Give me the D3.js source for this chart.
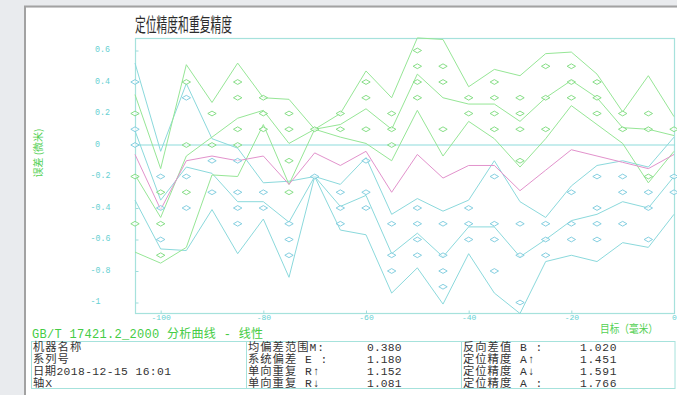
<!DOCTYPE html>
<html>
<head>
<meta charset="utf-8">
<script src="https://cdn.jsdelivr.net/npm/d3@7"></script>
<style>
  html, body { margin: 0; padding: 0; background: #e9ebee; }
  svg { display: block; }
</style>
</head>
<body>
<svg id="chart" width="677" height="395"></svg>
<script>
// Target positions (mm)
const positions = [-105, -100, -95, -90, -85, -80, -75, -70, -65, -60, -55,
                   -50, -45, -40, -35, -30, -25, -20, -15, -10, -5, 0];

// Forward approach (↑): mean and band limits (µm)
const fwdUpper = [0.32, -0.15, 0.51, 0.27, 0.52, 0.30, 0.29, 0.10, 0.20, 0.47, 0.30,
                  0.68, 0.67, 0.37, 0.48, 0.44, 0.58, 0.59, 0.45, 0.21, 0.44, 0.18];
const fwdMean  = [-0.19, -0.46, -0.07, 0.05, 0.17, 0.22, 0.01, 0.10, 0.13, 0.23, 0.10,
                  0.45, 0.30, 0.26, 0.26, 0.15, 0.30, 0.41, 0.30, 0.11, 0.10, 0.06];
const fwdLower = [-0.68, -0.75, -0.65, -0.19, -0.20, 0.13, -0.25, 0.10, 0.05, 0.01, -0.10,
                  0.22, -0.07, 0.15, 0.04, -0.14, 0.04, 0.25, 0.13, 0.01, -0.24, -0.04];

// Backward approach (↓): mean and band limits
const bwdUpper = [0.52, -0.04, 0.39, 0.04, -0.02, -0.24, -0.23, -0.20, -0.25, -0.08, -0.44,
                  -0.34, -0.42, -0.35, -0.10, -0.36, -0.46, -0.26, -0.13, -0.10, -0.14, 0.05];
const bwdMean  = [0.09, -0.35, -0.14, -0.18, -0.36, -0.36, -0.49, -0.20, -0.39, -0.32, -0.69,
                  -0.56, -0.71, -0.52, -0.52, -0.71, -0.60, -0.48, -0.44, -0.36, -0.40, -0.20];
const bwdLower = [-0.35, -0.66, -0.67, -0.41, -0.69, -0.47, -0.84, -0.20, -0.54, -0.57, -0.94,
                  -0.78, -1.01, -0.69, -0.94, -1.07, -0.74, -0.70, -0.74, -0.62, -0.65, -0.44];

// Bidirectional mean deviation
const biMean   = [-0.06, -0.41, -0.10, -0.07, -0.10, -0.07, -0.25, -0.05, -0.13, -0.04, -0.30,
                  -0.06, -0.21, -0.13, -0.13, -0.29, -0.16, -0.03, -0.07, -0.11, -0.15, -0.06];

// Individual run readings at each position
const fwdRuns = [[0.2, -0.2, -0.5], [-0.3, -0.5, -0.7], [0.4, 0.0, -0.3], [0.2, 0.0],
                 [0.4, 0.3, 0.1, 0.0], [0.3, 0.2, 0.1], [0.2, 0.1, -0.1, -0.3], [0.1],
                 [0.2, 0.1], [0.4, 0.3, 0.1], [0.2, 0.1, 0.0], [0.6, 0.5, 0.4, 0.3],
                 [0.5, 0.4, 0.1], [0.3, 0.2], [0.4, 0.3, 0.2, 0.1], [0.3, 0.2, 0.1, -0.1],
                 [0.5, 0.3, 0.1], [0.5, 0.4, 0.3], [0.4, 0.3, 0.2], [0.2, 0.1],
                 [0.2, 0.1, -0.2], [0.1]];
const bwdRuns = [[0.4, 0.1, 0.0], [-0.2, -0.4, -0.6], [0.3, -0.2, -0.4], [-0.1, -0.3],
                 [-0.1, -0.3, -0.4, -0.5], [-0.3, -0.4], [-0.5, -0.6, -0.7], [-0.2],
                 [-0.3, -0.4, -0.5], [-0.1, -0.3, -0.4], [-0.5, -0.7, -0.8], [-0.4, -0.5, -0.6, -0.7],
                 [-0.5, -0.7, -0.8, -0.9], [-0.4, -0.5, -0.6], [-0.2, -0.5, -0.6, -0.8], [-0.5, -0.7, -1.0],
                 [-0.5, -0.6, -0.7], [-0.3, -0.5, -0.6], [-0.2, -0.4, -0.5, -0.6], [-0.2, -0.3, -0.5],
                 [-0.3, -0.4, -0.6], [-0.2, -0.3]];

// Axis ticks
const yTicks = [0.6, 0.4, 0.2, 0, -0.2, -0.4, -0.6, -0.8, -1];
const xTicks = [-100, -80, -60, -40, -20, 0];

// Report text
const infoRows   = ["机器名称", "系列号", "日期2018-12-15 16:01", "轴X"];
const statNames1 = ["均偏差范围M:", "系统偏差 E :", "单向重复 R↑", "单向重复 R↓"];
const statVals1  = ["0.380", "1.180", "1.152", "1.081"];
const statNames2 = ["反向差值 B :", "定位精度 A↑", "定位精度 A↓", "定位精度 A :"];
const statVals2  = ["1.020", "1.451", "1.591", "1.766"];

const title    = "定位精度和重复精度";
const yTitle   = "误差 (微米)";
const xTitle   = "目标（毫米）";
const standard = "GB/T 17421.2_2000 分析曲线 - 线性";

// ---------- drawing ----------
const svg = d3.select("#chart");
const GREEN = "#96e696", CYAN = "#8bd9dc", PINK = "#e292cc";
const GREEN_MK = "#7ada7a", CYAN_MK = "#78cadc";
const TXT_GREEN = "#52d052", TICK_CYAN = "#66d0d2";
const MONO = "'Liberation Mono', 'Noto Sans CJK SC', monospace";

// window frame
svg.append("rect").attr("width", 677).attr("height", 395).attr("fill", "#e9ebee");
svg.append("rect").attr("x", 26).attr("y", 7.5).attr("width", 651).attr("height", 388).attr("fill", "#fff");
svg.append("path").attr("d", "M25,395V6.5H677")
  .attr("fill", "none").attr("stroke", "#a2a2a2").attr("stroke-width", 2);

const plotLeft = 135, plotRight = 675, plotTop = 38.5, plotBottom = 313.5;
const x = d3.scaleLinear().domain([-105, 0]).range([plotLeft, 674]);
const y = d3.scaleLinear().domain([-1, 0.6]).range([302.5, 50.5]);

// title
svg.append("text").attr("x", 135).attr("y", 32)
  .attr("textLength", 97).attr("lengthAdjust", "spacingAndGlyphs")
  .style("font-family", "'Noto Sans CJK SC', sans-serif").style("font-size", "19px")
  .attr("fill", "#2b2b2b").text(title);

// plot frame and zero line
svg.append("rect").attr("x", plotLeft + 0.5).attr("y", plotTop)
  .attr("width", plotRight - plotLeft - 1).attr("height", plotBottom - plotTop)
  .attr("fill", "none").attr("stroke", "#a6e2dc").attr("stroke-width", 1.2);
svg.append("line").attr("x1", plotLeft).attr("x2", plotRight).attr("y1", y(0)).attr("y2", y(0))
  .attr("stroke", "#8edcdc").attr("stroke-width", 1.2);

// y axis
const fmt = d => String(+d.toFixed(1));
const gy = svg.append("g").attr("transform", `translate(${plotLeft + 0.5},0)`)
  .call(d3.axisLeft(y).tickValues(yTicks).tickSize(-3).tickFormat(fmt));
gy.select(".domain").remove();
gy.selectAll(".tick line").attr("stroke", "#9fdcdc");
gy.selectAll(".tick text")
  .attr("text-anchor", "start")
  .attr("x", d => -40.5 - (d < 0 ? 4.5 : 0))
  .attr("y", -1.5)
  .attr("fill", TICK_CYAN)
  .style("font-family", MONO).style("font-size", "8.3px");

// x axis
const gx = svg.append("g").attr("transform", `translate(0,${plotBottom})`)
  .call(d3.axisBottom(x).tickValues(xTicks).tickSize(-3).tickFormat(d => String(d)));
gx.select(".domain").remove();
gx.selectAll(".tick line").attr("stroke", "#9fdcdc");
gx.selectAll(".tick text")
  .attr("y", 6).attr("dy", 0)
  .attr("fill", TICK_CYAN)
  .style("font-family", MONO).style("font-size", "8px");

// axis titles
svg.append("text").attr("transform", "translate(42,153) rotate(-90)")
  .attr("text-anchor", "middle").attr("fill", TXT_GREEN)
  .style("font-family", "'Noto Sans CJK SC', sans-serif").style("font-size", "10px")
  .text(yTitle);
svg.append("text").attr("x", 600).attr("y", 333)
  .attr("textLength", 58).attr("lengthAdjust", "spacingAndGlyphs")
  .attr("fill", TXT_GREEN)
  .style("font-family", "'Noto Sans CJK SC', sans-serif").style("font-size", "11px")
  .text(xTitle);

// curves
const line = d3.line().x((d, i) => x(positions[i])).y(d => y(d));
const plot = svg.append("g");
[bwdUpper, bwdMean, bwdLower].forEach(s =>
  plot.append("path").attr("d", line(s)).attr("fill", "none").attr("stroke", CYAN).attr("stroke-width", 1));
[fwdUpper, fwdMean, fwdLower].forEach(s =>
  plot.append("path").attr("d", line(s)).attr("fill", "none").attr("stroke", GREEN).attr("stroke-width", 1));
plot.append("path").attr("d", line(biMean)).attr("fill", "none").attr("stroke", PINK).attr("stroke-width", 1);

// run markers
const diamond = "M-4.2,0L0,-2.4L4.2,0L0,2.4Z";
function drawRuns(runs, color) {
  const pts = [];
  runs.forEach((vals, i) => vals.forEach(v => pts.push([positions[i], v])));
  plot.append("g").selectAll("path").data(pts).join("path")
    .attr("d", diamond)
    .attr("transform", d => `translate(${x(d[0])},${y(d[1])})`)
    .attr("fill", "#fff").attr("fill-opacity", 0.6)
    .attr("stroke", color).attr("stroke-width", 0.9);
}
drawRuns(fwdRuns, GREEN_MK);
drawRuns(bwdRuns, CYAN_MK);

// standard caption
svg.append("text").attr("x", 32).attr("y", 337.5)
  .attr("textLength", 231).attr("lengthAdjust", "spacing")
  .attr("fill", "#45cc45")
  .style("font-family", MONO).style("font-size", "12px")
  .text(standard);

// report table
const tbl = svg.append("g");
tbl.append("rect").attr("x", 31.5).attr("y", 341.5).attr("width", 643.5).attr("height", 47)
  .attr("fill", "none").attr("stroke", "#a6e2dc").attr("stroke-width", 1);
[246.5, 461.5].forEach(xx =>
  tbl.append("line").attr("x1", xx).attr("x2", xx).attr("y1", 341.5).attr("y2", 388.5)
    .attr("stroke", "#a6e2dc").attr("stroke-width", 1));

const rowY = [351, 363.1, 375.2, 387.3];
function column(texts, x0, spacing, widthOf) {
  const t = tbl.append("g").selectAll("text").data(texts).join("text")
    .attr("x", x0).attr("y", (d, i) => rowY[i])
    .attr("fill", "#333")
    .style("font-family", MONO).style("font-size", "11.3px").style("letter-spacing", spacing + "px")
    .text(d => d);
  if (widthOf) t.each(function (d) {
    const w = widthOf(d);
    if (w) d3.select(this).attr("textLength", w).attr("lengthAdjust", "spacing");
  });
}
column(infoRows, 33, 1, d => d.startsWith("日期") ? 139 : null);
column(statNames1, 248, 1);
column(statVals1, 367, 0.5, () => 35);
column(statNames2, 463, 1);
column(statVals2, 580, 0.5, () => 37);
</script>
</body>
</html>
